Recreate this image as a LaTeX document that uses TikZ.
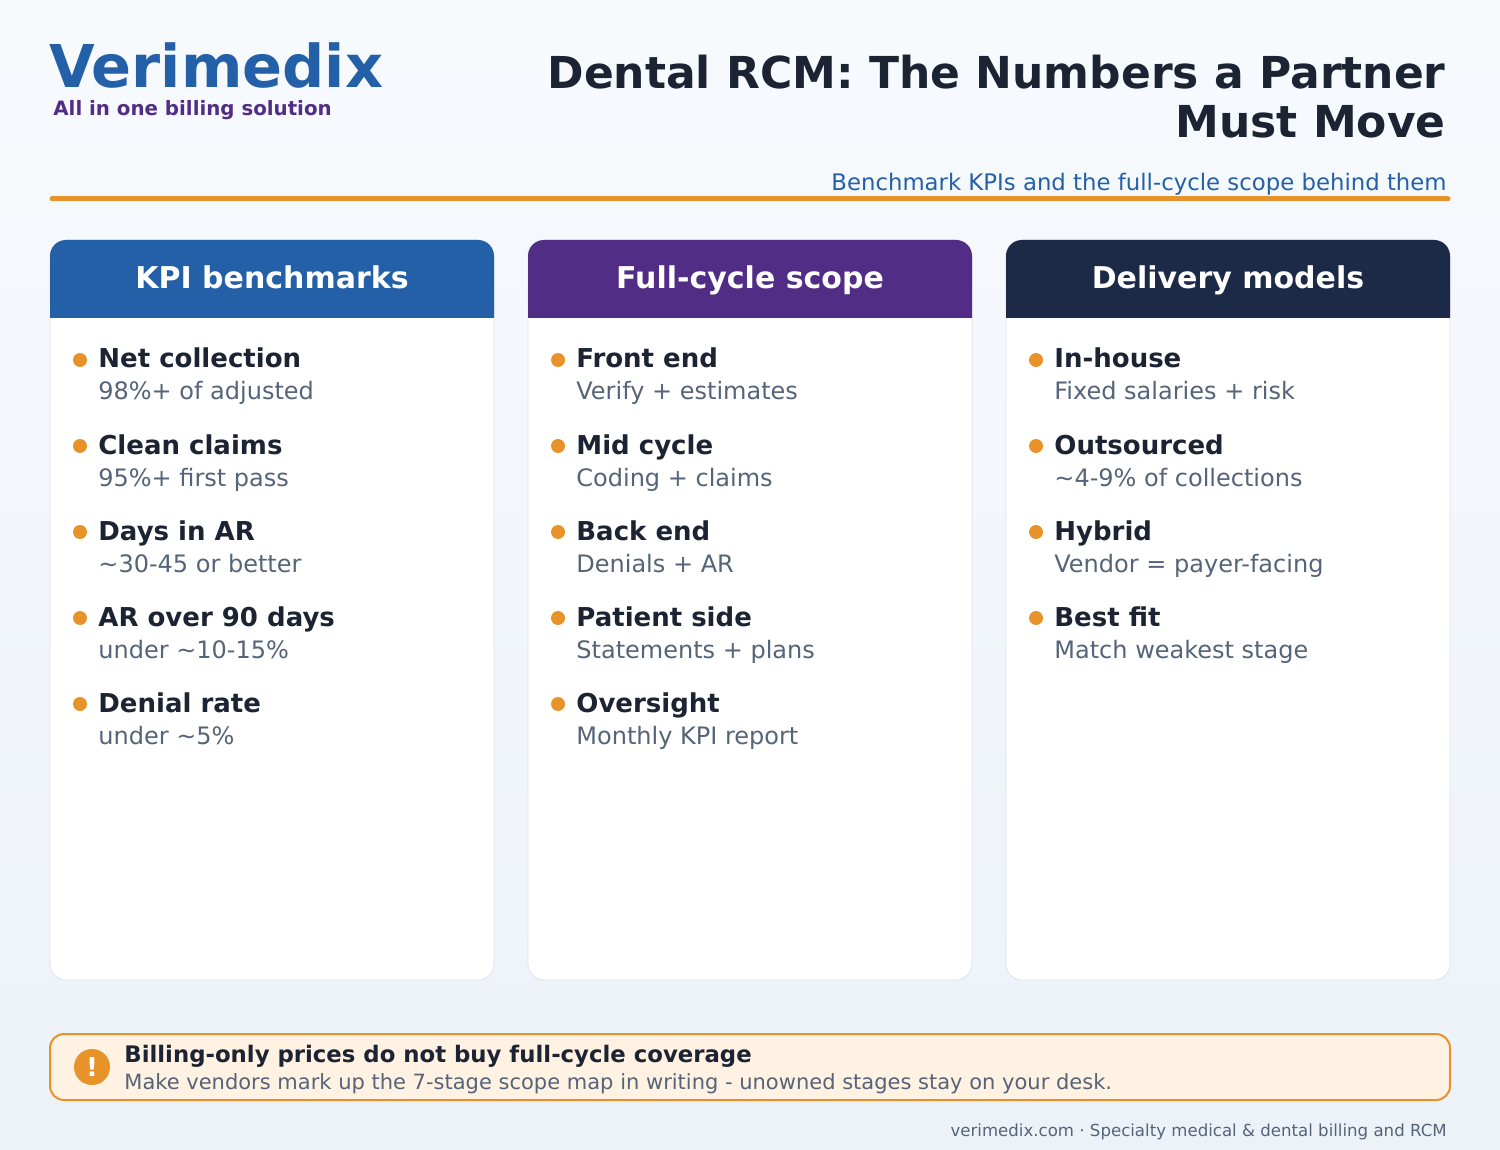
\documentclass[tikz,border=0pt]{standalone}
\usepackage{fontspec}
\setmainfont{DejaVu Sans}
\usetikzlibrary{positioning}
\definecolor{vblue}{HTML}{2460A7}
\definecolor{vpurple}{HTML}{522D86}
\definecolor{vnavy}{HTML}{1C2A48}
\definecolor{vorange}{HTML}{E8922A}
\definecolor{vgray}{HTML}{556478}
\definecolor{vdark}{HTML}{1C2333}
\definecolor{vline}{HTML}{DCE3EC}
\definecolor{bgtop}{HTML}{F7FAFD}
\definecolor{bgbot}{HTML}{EDF2F9}
\definecolor{vcream}{HTML}{FFF2E2}
\tikzset{
  head/.style={anchor=base, inner sep=0pt, font=\fontsize{15}{18}\selectfont\bfseries, text=white},
  itemhead/.style={anchor=base west, inner sep=0pt, font=\fontsize{13}{15}\selectfont\bfseries, text=vdark},
  itemsub/.style={anchor=base west, inner sep=0pt, font=\fontsize{12}{14}\selectfont, text=vgray},
  dot/.style={circle, fill=vorange, inner sep=0pt, minimum size=7pt},
}
\begin{document}
\begin{tikzpicture}[x=0.5pt,y=-0.5pt]
\shade[top color=bgtop, bottom color=bgbot] (0,0) rectangle (1500,1150);
\useasboundingbox (0,0) rectangle (1500,1150);
% header
\node[anchor=base west, inner sep=0pt, font=\fontsize{29.5}{34}\selectfont\bfseries, text=vblue] (brand) at (49,88) {Verimedix};
\node[anchor=base west, inner sep=0pt, font=\fontsize{9.9}{11}\selectfont\bfseries, text=vpurple] (tagline) at (53,116) {All in one billing solution};
\node[anchor=base east, inner sep=0pt, font=\fontsize{22}{25}\selectfont\bfseries, text=vdark] (title1) at (1446,89) {Dental RCM: The Numbers a Partner};
\node[anchor=base east, inner sep=0pt, font=\fontsize{22}{25}\selectfont\bfseries, text=vdark] (title2) at (1446,138) {Must Move};
\node[anchor=base east, inner sep=0pt, font=\fontsize{11.4}{13}\selectfont, text=vblue] (subtitle) at (1447,191) {Benchmark KPIs and the full-cycle scope behind them};
\draw[vorange, line width=2.5pt, line cap=round] (52,199) -- (1448,199);
% cards
\foreach \x/\col/\name in {50/vblue/KPI benchmarks, 528/vpurple/Full-cycle scope, 1006/vnavy/Delivery models}
{
  \draw[vline, fill=white, rounded corners=8pt] (\x,240) rectangle (\x+444,980);
  \fill[\col] (\x,318) [rounded corners=8pt] -- (\x,240) -- (\x+444,240) [sharp corners] -- (\x+444,318) -- cycle;
  \node[head] at (\x+222,289) {\name};
}
\foreach \t/\s [count=\i from 0] in {Net collection/98\%+ of adjusted, Clean claims/95\%+ first pass, Days in AR/\textasciitilde30-45 or better, AR over 90 days/under \textasciitilde10-15\%, Denial rate/under \textasciitilde5\%}
{
  \node[dot] (kd\i) at (80,360+86*\i) {};
  \node[itemhead] (kt\i) at (98,368+86*\i) {\t};
  \node[itemsub] (ks\i) at (98,400+86*\i) {\s};
}
\foreach \t/\s [count=\i from 0] in {Front end/Verify + estimates, Mid cycle/Coding + claims, Back end/Denials + AR, Patient side/Statements + plans, Oversight/Monthly KPI report}
{
  \node[dot] (sd\i) at (558,360+86*\i) {};
  \node[itemhead] (st\i) at (576,368+86*\i) {\t};
  \node[itemsub] (ss\i) at (576,400+86*\i) {\s};
}
\foreach \t/\s [count=\i from 0] in {In-house/Fixed salaries + risk, Outsourced/\textasciitilde4-9\% of collections, Hybrid/Vendor = payer-facing, Best fit/Match weakest stage}
{
  \node[dot] (dd\i) at (1036,360+86*\i) {};
  \node[itemhead] (dt\i) at (1054,368+86*\i) {\t};
  \node[itemsub] (ds\i) at (1054,400+86*\i) {\s};
}
% banner
\draw[vorange, fill=vcream, line width=1pt, rounded corners=7pt] (50,1034) rectangle (1450,1100);
\node[circle, fill=vorange, minimum size=18pt, inner sep=0pt, text=white, font=\fontsize{13}{15}\selectfont\bfseries] (warn) at (92,1067) {!};
\node[anchor=base west, inner sep=0pt, font=\fontsize{11.4}{13}\selectfont\bfseries, text=vdark] (wtitle) at (124,1062) {Billing-only prices do not buy full-cycle coverage};
\node[anchor=base west, inner sep=0pt, font=\fontsize{10.5}{12}\selectfont, text=vgray] (wsub) at (124,1089) {Make vendors mark up the 7-stage scope map in writing - unowned stages stay on your desk.};
\node[anchor=base east, inner sep=0pt, font=\fontsize{8.3}{10}\selectfont, text=vgray] (footer) at (1447,1136) {verimedix.com · Specialty medical \& dental billing and RCM};
\end{tikzpicture}
\end{document}
